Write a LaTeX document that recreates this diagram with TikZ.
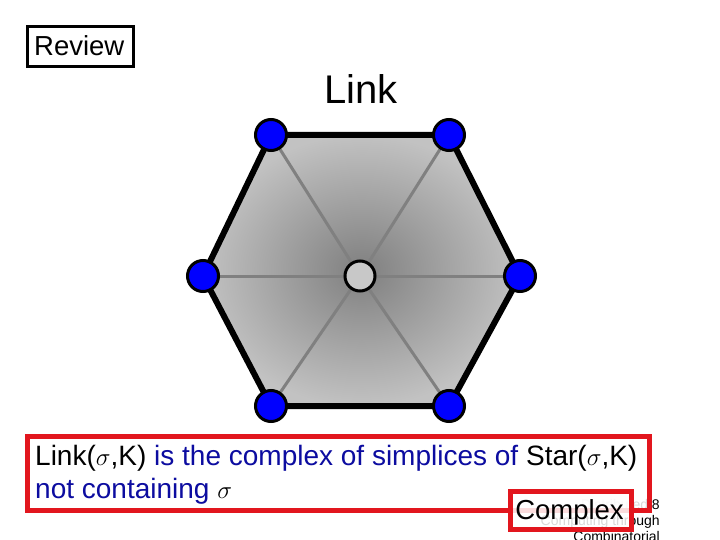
\documentclass[tikz,border=0pt]{standalone}
\usepackage{fontspec}
\setmainfont{Liberation Sans}
\definecolor{boxred}{RGB}{226,22,30}
\definecolor{txtblue}{RGB}{12,12,160}
\definecolor{vblue}{RGB}{0,0,255}
\definecolor{spoke}{RGB}{128,128,128}
\definecolor{ctrfill}{RGB}{200,200,200}
\tikzset{
  vert/.style={circle,draw=black,line width=3pt,fill=vblue,minimum size=31pt,inner sep=0pt},
  ctr/.style={circle,draw=black,line width=3pt,fill=ctrfill,minimum size=30pt,inner sep=0pt},
  hexedge/.style={line width=6pt,line cap=round,line join=round},
  spokeline/.style={draw=spoke,line width=3pt},
  redbox/.style={draw=boxred,line width=5pt,fill=white,fill opacity=0.85},
  foot/.style={font=\fontsize{14}{16}\selectfont,inner sep=0pt},
}
\begin{document}
\begin{tikzpicture}[x=1pt,y=-1pt]
\useasboundingbox (0,0) rectangle (720,540);
\clip (0,0) rectangle (720,540);
\fill[white] (0,0) rectangle (720,540);
% Review box
\node[draw=black,line width=3pt,minimum width=106pt,minimum height=40pt,inner sep=0pt] (review) at (80.5,46.5) {};
\node[anchor=base west,inner sep=0pt,font=\fontsize{27.5}{32}\selectfont] (reviewtxt) at (34,56) {Review};
% title
\node[anchor=base,inner sep=0pt,font=\fontsize{40}{46}\selectfont] (title) at (361,104) {Link};
% hexagon coordinates
\coordinate (c) at (360,276);
\coordinate (v1) at (271,135);
\coordinate (v2) at (449,135);
\coordinate (v3) at (520,276);
\coordinate (v4) at (449,406);
\coordinate (v5) at (271,406);
\coordinate (v6) at (203,276);
\shade[inner color=black!50,outer color=black!24] (v1) -- (v2) -- (v3) -- (v4) -- (v5) -- (v6) -- cycle;
\foreach \v in {v1,v2,v3,v4,v5,v6} \draw[spokeline] (c) -- (\v);
\draw[hexedge] (v1) -- (v2) -- (v3) -- (v4) -- (v5) -- (v6) -- cycle;
\foreach \v in {v1,v2,v3,v4,v5,v6} \node[vert] (n\v) at (\v) {};
\node[ctr] (nc) at (c) {};
% footer
\node[foot,anchor=base east] (f1) at (660,509) {Distributed 8};
\node[foot,anchor=base east] (f2) at (660,525) {Computing through};
\node[foot,anchor=base east] (f3) at (660,541) {Combinatorial};
% red boxes
\draw[redbox] (27,436) rectangle (649,510);
\draw[redbox] (510,491) rectangle (631,529);
% body text
\node[anchor=base west,inner sep=0pt,font=\fontsize{28}{33}\selectfont] (l1) at (35,465)
  {Link($\sigma$,K) \textcolor{txtblue}{is the complex of simplices of} Star($\sigma$,K)};
\node[anchor=base west,inner sep=0pt,font=\fontsize{28}{33}\selectfont] (l2) at (35,498)
  {\textcolor{txtblue}{not containing} $\sigma$};
\node[anchor=base,inner sep=0pt,font=\fontsize{27.5}{32}\selectfont] (cplx) at (569.5,519) {Complex};
\end{tikzpicture}
\end{document}
